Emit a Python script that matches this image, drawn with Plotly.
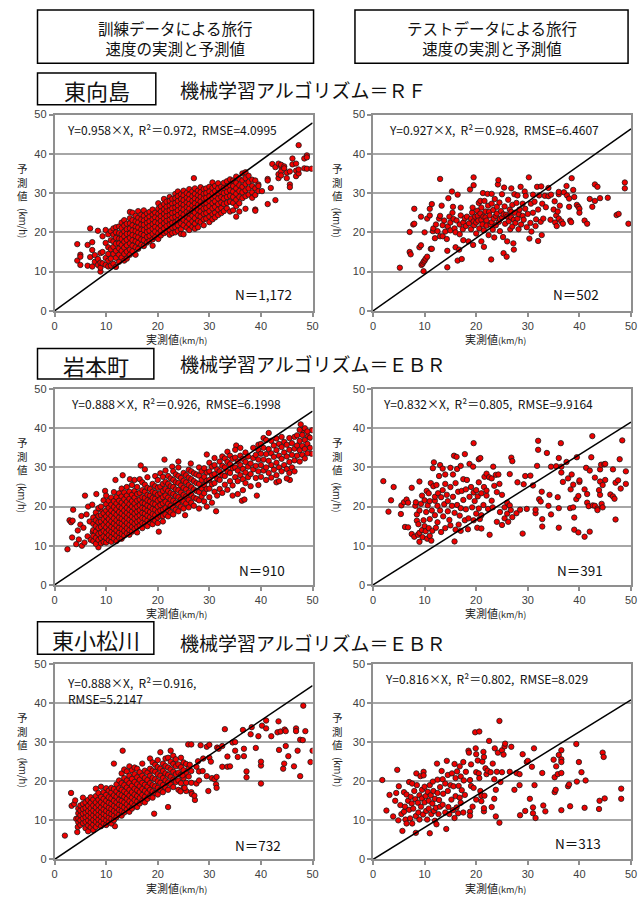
import plotly.graph_objects as go

W, H = 638, 901

# ---------------- text / labels ----------------
HEADERS = [["訓練データによる旅行", "速度の実測と予測値"],
           ["テストデータによる旅行", "速度の実測と予測値"]]
STATIONS = ["東向島", "岩本町", "東小松川"]
ALGOS = ["機械学習アルゴリズム＝ＲＦ", "機械学習アルゴリズム＝ＥＢＲ", "機械学習アルゴリズム＝ＥＢＲ"]
SLOPES = [0.958, 0.927, 0.888, 0.832, 0.888, 0.816]
STATS = ["Y=0.958×X,  R²＝0.972,  RMSE=4.0995",
         "Y=0.927×X,  R²＝0.928,  RMSE=6.4607",
         "Y=0.888×X,  R²＝0.926,  RMSE=6.1998",
         "Y=0.832×X,  R²＝0.805,  RMSE=9.9164",
         "Y=0.888×X,  R²＝0.916,<br>RMSE=5.2147",
         "Y=0.816×X,  R²＝0.802,  RMSE=8.029"]
COUNTS = ["N＝1,172", "N＝502", "N＝910", "N＝391", "N＝732", "N＝313"]
TICKS = [0, 10, 20, 30, 40, 50]
X_TITLE = "実測値<span style='font-size:9px'>(km/h)</span>"
Y_TITLE_CHARS = "予<br>測<br>値"
Y_TITLE_UNIT = "(km/h)"

# ---------------- data: (actual speed x, predicted y1, y2, ...) ----------------
TRAIN_MUKOJIMA = [
    (4.4, 17.0, 12.8), (5.0, 14.3, 11.7, 13.8), (6.4, 16.8, 11.5), (6.9, 21.0, 13.7),
    (7.3, 17.5, 15.5, 11.3), (7.8, 12.5, 14.2), (8.4, 20.4, 13.2, 11.7), (8.9, 10.0, 11.0, 12.3, 14.7),
    (9.3, 19.0, 15.0, 12.1), (9.9, 20.6, 17.3, 13.5, 11.7), (10.4, 19.5, 16.2, 14.5, 12.8, 11.3),
    (10.9, 20.3, 18.0, 15.7, 13.3, 11.5), (11.4, 21.0, 19.4, 17.7, 16.3, 14.5, 12.0),
    (11.9, 21.3, 20.0, 18.6, 17.1, 15.3, 13.5, 11.2), (12.5, 21.5, 19.8, 18.4, 17.2, 15.9, 14.3, 12.5),
    (13.0, 22.5, 21.1, 19.5, 18.3, 16.8, 15.3, 13.6), (13.5, 23.1, 21.7, 20.2, 19.0, 17.6, 16.1, 14.5, 12.8),
    (14.0, 22.2, 20.8, 19.6, 18.1, 16.7, 15.1, 13.3), (14.6, 25.2, 23.6, 22.3, 21.0, 19.7, 18.6, 17.2, 15.6, 14.3),
    (15.1, 25.0, 23.1, 21.8, 20.5, 19.3, 18.0, 16.6, 15.2), (15.7, 24.2, 22.8, 21.4, 20.3, 19.0, 17.7, 16.2, 14.3),
    (16.2, 25.4, 23.7, 22.5, 21.2, 19.9, 18.7, 17.3, 15.8), (16.8, 24.5, 23.3, 22.0, 20.7, 19.6, 18.2, 16.8),
    (17.3, 25.6, 24.2, 23.0, 21.9, 20.6, 19.3, 18.0, 16.5), (17.9, 24.8, 23.5, 22.4, 21.2, 20.1, 18.8, 17.4),
    (18.4, 25.2, 24.0, 22.8, 21.6, 20.4, 19.1, 17.8), (19.0, 25.8, 24.5, 23.3, 22.1, 20.9, 19.6, 18.2, 16.6),
    (19.5, 25.0, 23.8, 22.6, 21.4, 20.2, 18.8), (20.1, 27.4, 26.0, 24.7, 23.5, 22.3, 21.0, 19.7, 18.3),
    (20.6, 26.6, 25.3, 24.1, 22.9, 21.7, 20.4, 19.2), (21.2, 28.5, 27.2, 25.9, 24.7, 23.5, 22.3, 21.0, 19.8),
    (21.7, 27.8, 26.5, 25.3, 24.1, 22.9, 21.6, 20.2), (22.3, 29.0, 28.0, 26.8, 25.6, 24.4, 23.2, 22.0, 20.6, 19.4),
    (22.8, 28.5, 27.3, 26.1, 24.9, 23.7, 22.4, 21.2, 19.8), (23.4, 29.8, 28.7, 27.5, 26.3, 25.1, 23.9, 22.6, 21.3, 20.0),
    (23.9, 30.4, 29.2, 28.0, 26.8, 25.6, 24.4, 23.1, 21.8, 20.4), (24.5, 29.7, 28.5, 27.3, 26.1, 24.9, 23.6, 22.3, 20.8, 19.6),
    (25.0, 30.6, 29.4, 28.2, 27.0, 25.8, 24.5, 23.2, 21.8, 19.5), (25.6, 30.0, 28.8, 27.6, 26.4, 25.2, 24.0, 22.7, 21.2),
    (26.1, 31.0, 29.6, 28.4, 27.2, 26.0, 24.8, 23.5, 22.1, 20.6), (26.7, 30.4, 29.2, 28.0, 26.8, 25.5, 24.2, 22.8, 21.4),
    (27.0, 33.8), (27.2, 31.2, 29.8, 28.6, 27.4, 26.2, 25.0, 23.6, 22.2, 20.9),
    (27.8, 30.6, 29.4, 28.2, 27.0, 25.7, 24.3, 22.9, 21.3), (28.3, 31.5, 30.2, 29.0, 27.8, 26.6, 25.3, 24.0, 22.6),
    (28.9, 31.0, 29.8, 28.6, 27.3, 26.0, 24.7, 23.3, 21.8), (29.4, 31.2, 30.0, 28.8, 27.5, 26.2, 24.9, 23.5),
    (30.0, 31.6, 30.4, 29.2, 28.0, 26.7, 25.4, 24.0, 22.6), (30.6, 32.7, 31.3, 30.0, 28.7, 27.4, 26.1, 24.6, 23.3),
    (31.1, 31.8, 30.5, 29.2, 27.9, 26.5, 25.0, 23.8), (31.7, 32.5, 31.2, 29.9, 28.6, 27.2, 25.8, 24.4),
    (32.3, 31.6, 30.3, 29.0, 27.6, 26.2, 24.9), (32.8, 32.6, 31.3, 30.0, 28.6, 27.2, 25.4),
    (33.4, 33.0, 31.6, 30.3, 29.0, 27.5, 26.1), (34.0, 33.5, 32.0, 30.7, 29.3, 27.8, 25.3),
    (34.6, 33.2, 31.8, 30.4, 29.0, 27.5, 25.6), (35.2, 34.2, 32.6, 31.2, 29.8, 28.3, 26.7, 24.0),
    (35.8, 33.6, 32.0, 30.5, 29.0, 27.4, 25.3), (36.4, 35.0, 33.2, 31.6, 30.2, 28.7),
    (37.0, 35.3, 33.8, 32.3, 30.7, 29.2, 26.0), (37.6, 34.4, 32.8, 31.2, 29.6), (38.3, 33.4, 31.8, 30.2, 28.8),
    (38.9, 33.2, 31.2, 29.5, 25.8, 25.5), (39.5, 32.2, 30.5, 31.8), (40.2, 30.5), (41.3, 27.2, 33.6, 33.2),
    (41.9, 31.3), (42.2, 37.4), (42.8, 28.2, 36.6), (43.4, 33.8, 34.8, 37.5), (43.9, 36.7, 37.2, 35.5, 34.5),
    (44.5, 36.8, 36.3), (45.0, 33.8, 35.2), (45.6, 32.2, 31.5, 35.5), (46.1, 37.3, 38.8),
    (46.8, 34.3, 35.7, 37.5), (47.3, 42.2, 35.0, 36.0), (48.4, 36.3, 38.8), (48.9, 39.6, 36.2, 39.1), (49.8, 36.2),
]

TEST_MUKOJIMA = [
    (5.2, 11.0), (7.1, 20.1, 15.0), (7.3, 14.4), (7.8, 22.0), (8.0, 26.0, 22.2), (9.0, 16.2), (9.3, 24.0, 16.7),
    (9.4, 11.7), (9.6, 12.0), (9.8, 12.5, 10.1), (10.0, 12.8, 20.0), (10.2, 13.3), (10.5, 13.8, 23.5),
    (11.0, 26.0, 24.3), (11.2, 15.8), (11.4, 15.8, 27.2), (11.6, 20.3), (11.7, 21.0), (12.0, 18.5), (12.2, 22.0),
    (12.5, 20.3), (12.8, 23.5), (13.0, 33.6, 24.2, 19.0), (13.3, 26.8), (13.5, 21.8, 19.0), (13.8, 23.0),
    (14.0, 20.2), (14.3, 18.3), (14.4, 15.3, 11.1), (14.5, 21.5), (14.6, 28.7), (14.8, 24.0), (15.0, 20.5, 22.5),
    (15.3, 30.4), (15.4, 25.0), (15.5, 26.5), (15.6, 23.4), (15.8, 21.0), (16.0, 16.2, 20.0), (16.2, 23.0),
    (16.4, 29.6, 12.8), (16.7, 15.6), (16.8, 19.5, 22.0), (17.0, 24.3, 26.3), (17.2, 13.2), (17.4, 20.8),
    (17.5, 22.5, 18.0), (17.8, 23.6), (18.0, 21.6), (18.2, 24.0), (18.5, 17.7), (18.6, 22.3), (18.8, 30.9),
    (19.0, 20.8, 23.5), (19.2, 25.0), (19.3, 26.3), (19.4, 16.8), (19.5, 32.0, 34.0, 22.8), (19.6, 21.8),
    (19.8, 24.0), (20.0, 22.5, 19.7), (20.2, 25.5), (20.3, 24.2), (20.4, 23.0), (20.5, 27.5), (20.6, 21.0),
    (20.8, 24.8, 28.0), (21.0, 17.7, 26.3, 23.2), (21.2, 22.0), (21.3, 30.0), (21.4, 24.0), (21.5, 16.3, 20.5),
    (21.6, 28.0), (21.8, 25.3, 23.8), (22.0, 23.0, 21.7), (22.2, 29.8), (22.3, 26.8), (22.4, 19.3),
    (22.5, 25.2), (22.6, 24.3), (22.8, 22.0), (22.9, 13.1), (23.0, 27.3, 29.8, 22.6), (23.2, 20.7), (23.3, 25.7),
    (23.4, 23.5), (23.5, 18.7), (23.6, 28.5), (23.8, 21.8, 24.2), (24.0, 24.8, 26.5), (24.2, 32.2), (24.3, 33.3),
    (24.4, 22.7), (24.5, 27.6), (24.6, 20.3, 23.4), (24.8, 25.4), (25.0, 23.8, 29.7), (25.2, 18.8),
    (25.3, 14.7, 24.6), (25.4, 31.4), (25.5, 26.6), (25.6, 22.2), (25.8, 24.5), (25.9, 13.8), (26.0, 17.7, 24.0),
    (26.2, 28.3), (26.3, 22.8), (26.5, 25.8), (26.6, 20.8), (26.8, 31.2, 23.8, 25.2), (27.0, 21.5, 27.0),
    (27.2, 17.2), (27.3, 15.6, 23.2), (27.4, 29.7), (27.5, 25.0), (27.6, 22.4), (27.8, 27.5), (28.0, 23.5, 29.4),
    (28.2, 20.8), (28.3, 24.6), (28.4, 25.8), (28.6, 31.6), (28.7, 22.0), (29.0, 27.3, 24.2), (29.2, 23.2),
    (29.4, 30.4), (29.5, 26.0), (29.6, 29.3), (29.8, 21.3), (30.0, 24.7), (30.2, 34.0), (30.3, 18.4),
    (30.5, 22.4), (30.6, 27.3), (30.7, 20.2), (31.0, 25.0, 29.6), (31.3, 27.8), (31.5, 21.6), (31.6, 23.3),
    (31.8, 31.6), (32.0, 17.8, 25.8), (32.2, 29.4), (32.5, 22.7), (32.6, 31.7), (32.7, 19.3), (32.8, 27.3),
    (33.0, 23.5), (33.3, 29.3), (33.5, 26.4), (34.0, 29.2, 31.3), (34.4, 23.2), (34.5, 29.6), (35.0, 25.8),
    (35.2, 27.9), (35.3, 22.5), (35.5, 24.3), (35.6, 21.6), (35.8, 25.3), (36.0, 29.7, 30.3, 23.5),
    (36.2, 26.8), (36.5, 22.8), (36.8, 22.2), (37.0, 30.2), (37.5, 31.8), (37.6, 29.4), (38.0, 28.6, 26.5),
    (38.2, 23.0), (38.4, 22.6), (38.5, 33.8), (38.8, 30.8), (39.0, 29.0), (39.5, 27.0), (39.8, 26.5),
    (40.0, 26.0, 25.0), (41.0, 23.0), (41.5, 22.2), (42.0, 28.5), (42.5, 26.5), (43.0, 32.2, 28.0), (43.5, 31.6),
    (44.0, 28.7), (45.5, 28.8), (47.2, 24.4), (47.6, 24.7), (48.8, 32.7, 31.2), (49.5, 22.2),
]

TRAIN_IWAMOTOCHO = [
    (2.5, 9.1), (2.9, 16.5), (3.2, 16.0), (3.4, 12.1), (3.5, 16.4), (3.6, 19.2), (4.2, 10.4), (4.5, 13.9),
    (4.7, 11.6), (5.0, 15.4), (5.2, 17.6), (5.3, 10.0), (5.6, 14.6), (5.8, 10.8), (5.9, 22.8), (6.2, 18.0),
    (6.4, 12.4), (6.5, 20.0), (6.8, 16.2), (7.0, 11.5), (7.3, 20.5), (7.4, 13.5), (7.8, 17.3), (8.1, 23.2),
    (8.2, 11.0), (8.5, 9.6), (8.6, 14.5), (8.9, 19.3), (9.2, 12.2), (9.5, 21.6), (9.8, 24.0), (10.0, 22.8),
    (11.8, 26.8), (13.2, 28.0), (14.6, 27.0), (16.7, 30.5), (17.5, 29.5), (20.2, 13.6), (21.3, 32.0),
    (22.8, 30.2), (24.0, 31.5), (25.3, 17.8), (26.4, 31.0), (29.5, 33.3), (31.3, 18.8), (33.5, 34.0),
    (35.2, 35.6), (36.3, 21.5), (36.8, 21.8), (39.2, 22.8), (39.5, 35.8), (40.5, 37.5), (41.5, 38.8),
    (43.0, 26.2), (45.6, 26.8), (47.7, 41.0), (48.1, 39.5), (49.1, 38.0), (49.9, 39.5), (49.8, 33.5),
    (7.5, 11.2, 12.5, 14.0, 15.6, 17.2), (8.0, 10.5, 12.0, 13.6, 15.0, 16.5, 18.5),
    (8.5, 11.5, 13.0, 14.5, 16.0, 17.6, 19.6), (9.0, 10.6, 12.0, 13.3, 14.8, 16.2, 17.8, 20.0),
    (9.5, 11.0, 12.4, 13.8, 15.3, 16.8, 18.3), (10.0, 10.8, 12.0, 13.4, 14.7, 16.1, 17.5, 19.0, 20.6),
    (10.5, 11.4, 12.7, 14.0, 15.4, 16.8, 18.2, 19.7, 21.5), (11.0, 11.0, 12.2, 13.5, 14.8, 16.2, 17.6, 19.0, 20.5, 22.3),
    (11.5, 11.8, 13.1, 14.4, 15.7, 17.0, 18.4, 19.9, 21.4, 23.7), (12.0, 11.2, 12.6, 13.9, 15.2, 16.5, 17.9, 19.3, 20.8, 22.4),
    (12.5, 12.0, 13.3, 14.6, 15.9, 17.2, 18.6, 20.0, 21.5, 23.4), (13.0, 11.8, 13.0, 14.3, 15.6, 16.9, 18.2, 19.6, 21.0, 22.6, 24.6),
    (13.5, 12.6, 13.8, 15.1, 16.4, 17.7, 19.0, 20.4, 21.9, 23.6), (14.0, 13.2, 14.5, 15.8, 17.1, 18.4, 19.7, 21.2, 22.8, 25.0),
    (14.5, 12.8, 14.0, 15.3, 16.6, 17.9, 19.2, 20.6, 22.0, 23.8), (15.0, 13.6, 14.8, 16.1, 17.4, 18.7, 20.0, 21.4, 23.0, 25.5),
    (15.5, 14.3, 15.6, 16.9, 18.2, 19.5, 20.8, 22.3, 24.0, 26.8), (16.0, 13.4, 14.8, 16.1, 17.4, 18.7, 20.0, 21.5, 23.2, 25.0),
    (16.5, 15.2, 16.5, 17.8, 19.1, 20.4, 21.8, 23.5, 27.0), (17.0, 14.5, 15.8, 17.1, 18.4, 19.7, 21.0, 22.4, 24.2, 26.2),
    (17.5, 15.6, 16.9, 18.2, 19.5, 20.8, 22.2, 23.8, 25.6), (18.0, 15.0, 16.4, 17.7, 19.0, 20.3, 21.6, 23.0, 24.8, 27.5),
    (18.5, 16.0, 17.3, 18.6, 19.9, 21.3, 22.8, 24.5), (19.0, 15.5, 16.8, 18.1, 19.4, 20.8, 22.2, 23.8, 25.8),
    (19.5, 16.4, 17.8, 19.2, 20.6, 22.0, 23.5, 25.2, 27.8), (20.0, 15.8, 17.2, 18.6, 20.0, 21.5, 23.0, 24.8, 26.8),
    (20.5, 17.6, 19.0, 20.4, 21.9, 23.4, 25.1, 28.5), (21.0, 16.2, 17.6, 19.2, 20.8, 22.4, 24.0, 25.8, 27.6),
    (21.5, 18.0, 19.6, 21.2, 22.8, 24.5, 26.3, 29.2), (22.0, 17.5, 19.1, 20.7, 22.3, 24.0, 25.8, 27.8),
    (22.5, 18.5, 20.2, 21.8, 23.5, 25.2, 27.2), (23.0, 18.0, 19.8, 21.5, 23.2, 25.0, 26.8, 29.0),
    (23.5, 19.2, 21.0, 22.7, 24.4, 26.2, 28.2), (24.0, 18.8, 20.6, 22.4, 24.2, 26.0, 27.8, 30.0),
    (24.5, 20.0, 21.8, 23.6, 25.4, 27.3), (25.0, 19.5, 21.3, 23.0, 24.8, 26.6, 28.6),
    (25.5, 20.8, 22.6, 24.4, 26.2, 28.0), (26.0, 19.8, 21.7, 23.6, 25.5, 27.4, 29.4),
    (26.5, 21.0, 23.0, 25.0, 27.0, 29.0), (27.0, 20.2, 22.3, 24.4, 26.5, 28.5), (27.5, 22.0, 24.0, 26.0, 28.2),
    (28.0, 19.5, 21.6, 23.7, 25.8, 27.9, 30.0), (28.5, 22.6, 24.7, 26.8, 29.0), (29.0, 21.3, 23.4, 25.5, 27.6, 29.8),
    (29.5, 20.0, 24.5, 26.6, 28.7), (30.0, 22.4, 24.6, 26.8, 29.0, 31.2), (30.5, 21.0, 25.7, 28.0, 30.2),
    (31.0, 23.8, 26.0, 28.3, 30.6, 32.4), (31.5, 22.8, 27.2, 29.5), (32.0, 24.5, 26.8, 29.0, 31.5),
    (32.5, 23.5, 28.0, 30.4, 32.8), (33.0, 25.6, 27.8, 30.0, 32.3), (33.5, 24.3, 29.0, 31.4),
    (34.0, 26.5, 28.6, 30.8, 33.0), (34.5, 22.8, 25.4, 29.8, 32.2), (35.0, 27.5, 30.0, 32.5, 34.5),
    (35.5, 23.2, 26.5, 29.2, 31.5), (36.0, 28.0, 30.6, 33.0, 35.0), (36.5, 24.2, 27.0, 29.6, 32.2),
    (37.0, 26.0, 28.7, 31.4, 33.8), (37.5, 27.5, 30.2, 32.8), (38.0, 25.2, 28.3, 31.0), (38.5, 29.5, 32.4, 35.0),
    (39.0, 27.3, 30.4, 33.2), (39.5, 25.5, 29.0, 32.0, 34.5), (40.0, 27.6, 30.6, 33.5, 36.0),
    (40.5, 29.2, 32.0, 35.0), (41.0, 26.8, 30.0, 33.4, 37.0), (41.5, 28.6, 31.7, 34.7),
    (42.0, 27.4, 30.6, 33.6, 36.8), (42.5, 29.4, 32.7, 35.6), (43.0, 28.0, 31.2, 34.4, 37.4),
    (43.5, 26.5, 30.0, 33.0, 36.0), (44.0, 29.0, 32.2, 35.2, 37.8), (44.5, 30.6, 33.8, 36.5),
    (45.0, 27.2, 29.6, 32.8, 35.8), (45.5, 28.6, 31.4, 34.5, 37.5), (46.0, 30.0, 33.2, 36.2),
    (46.5, 29.0, 31.8, 34.8, 37.8), (47.0, 33.0, 35.6, 38.2), (47.5, 31.5, 34.4, 36.8, 39.6),
    (48.0, 33.2, 35.5, 38.3), (48.5, 32.3, 34.7, 37.0, 40.0), (49.0, 33.6, 36.0, 39.2), (49.5, 35.0, 37.6),
]

TEST_IWAMOTOCHO = [
    (2.0, 26.5), (3.0, 18.7), (3.5, 21.6), (4.0, 25.0), (5.4, 18.1), (5.5, 20.3), (6.0, 21.1), (6.2, 14.8),
    (6.5, 21.8), (6.8, 21.0, 14.7), (7.5, 24.8, 13.0), (8.0, 12.3), (8.2, 20.2), (8.3, 21.1), (8.5, 16.4, 18.0),
    (8.7, 12.8), (8.8, 15.5), (9.0, 11.0, 13.3, 19.0, 26.4), (9.3, 20.7), (9.5, 14.0, 22.8), (9.6, 12.2),
    (9.8, 16.5), (10.0, 15.0, 21.6), (10.2, 13.7), (10.3, 18.6), (10.4, 24.0), (10.5, 11.8), (10.6, 20.3),
    (10.8, 14.5, 23.4), (11.0, 12.5, 16.8, 21.4), (11.2, 26.0), (11.3, 11.3), (11.4, 19.0), (11.5, 13.8),
    (11.6, 29.8), (11.7, 25.2), (11.8, 31.3), (12.0, 17.8, 21.5, 22.5), (12.2, 14.6), (12.3, 25.5),
    (12.5, 20.2, 16.0), (12.6, 23.4), (12.8, 27.8), (13.0, 19.0, 30.6), (13.2, 13.5, 22.4), (13.5, 29.7, 24.2),
    (13.6, 17.5), (13.8, 20.6), (14.0, 25.8, 14.5, 28.2), (14.3, 23.0), (14.5, 21.4, 18.8), (14.8, 16.6),
    (15.0, 29.9, 25.0, 15.2), (15.3, 20.2), (15.5, 28.2, 22.5), (15.7, 33.0), (15.8, 11.1, 18.4), (16.0, 26.0, 14.1),
    (16.2, 32.7), (16.3, 20.4, 29.6), (16.5, 23.8), (16.6, 15.4), (16.8, 17.7), (17.0, 30.4, 19.6, 13.8),
    (17.2, 24.0), (17.5, 21.7, 27.0), (17.8, 33.4, 16.5), (18.0, 19.3, 24.4), (18.2, 26.8), (18.4, 14.2),
    (18.5, 17.0), (18.7, 22.5, 30.9), (19.0, 25.0), (19.2, 19.8), (19.4, 30.2), (19.5, 36.2, 23.6, 16.5),
    (19.7, 21.4), (20.0, 24.2, 18.2), (20.2, 14.6), (20.3, 22.6), (20.5, 32.1, 26.2, 19.5), (20.7, 16.8),
    (20.8, 32.4), (21.0, 14.4, 23.4, 17.8), (21.4, 20.4), (21.5, 25.0), (21.6, 27.6), (22.0, 28.4, 22.8, 24.1),
    (22.3, 19.4), (22.5, 27.5), (22.6, 12.8), (23.0, 21.5, 27.2), (23.2, 19.8), (23.3, 30.2), (23.5, 25.3),
    (23.8, 28.1), (24.0, 23.7, 16.1), (24.3, 28.2), (24.5, 25.8), (24.6, 18.6), (25.0, 23.0, 15.3),
    (25.5, 17.0, 19.8), (26.0, 21.0, 18.2), (26.2, 16.1), (26.5, 20.3, 28.3), (26.7, 19.1), (26.8, 32.5),
    (27.0, 31.6, 17.3), (27.8, 18.3), (28.0, 26.2), (28.5, 19.2), (29.0, 13.1), (29.2, 25.7), (29.5, 27.8),
    (29.8, 19.4), (30.5, 27.9), (31.0, 25.4), (31.5, 18.3, 19.2), (31.8, 30.4), (32.0, 36.8, 34.5), (32.2, 21.9),
    (32.5, 21.3), (32.7, 23.8), (32.8, 14.9, 16.8), (33.7, 33.7), (34.0, 20.2), (34.2, 23.0), (34.5, 18.0, 30.2),
    (35.5, 30.3), (35.8, 22.4), (36.0, 32.4, 14.6, 19.6), (36.4, 36.2), (36.5, 30.2, 28.7), (36.8, 26.3),
    (37.5, 31.4), (37.8, 27.2), (38.2, 19.6), (38.3, 24.4), (38.5, 28.2), (38.8, 25.6, 19.8), (39.0, 14.1, 17.2),
    (39.4, 21.9), (39.5, 32.6), (39.8, 13.4, 22.7), (40.0, 26.3, 26.7), (41.0, 12.3, 24.4), (41.3, 29.9),
    (41.5, 23.2, 21.0), (41.8, 20.1), (42.0, 13.6, 29.2), (42.3, 32.6), (42.5, 38.0), (42.6, 20.3),
    (43.0, 27.4, 20.2), (43.5, 19.5, 19.1), (43.8, 24.2), (44.0, 26.4, 23.0, 29.5), (44.2, 30.7), (44.3, 20.7),
    (44.5, 25.5, 19.8), (44.8, 30.8), (45.0, 26.8, 30.9), (46.0, 23.1), (46.5, 29.5, 22.6), (46.8, 22.0),
    (47.0, 16.7, 26.1), (47.5, 26.7), (47.8, 32.1), (48.0, 24.6), (48.3, 36.9), (49.0, 25.8, 29.0),
]

TRAIN_HIGASHIKOMATSUGAWA = [
    (2.0, 6.1), (3.2, 17.0), (3.3, 13.7), (3.8, 14.2), (4.0, 15.1), (4.2, 10.4), (4.4, 7.0), (4.5, 8.3),
    (11.5, 24.5), (13.2, 27.8), (11.7, 8.5), (19.3, 11.7), (22.0, 13.4), (27.2, 15.2),
    (4.6, 9.5, 10.5, 11.8, 13.0), (5.0, 8.8, 10.0, 11.3, 12.5, 13.8), (5.5, 9.3, 10.5, 11.7, 12.9, 14.2, 15.8),
    (6.0, 8.0, 9.6, 10.8, 12.0, 13.2, 14.6), (6.5, 7.2, 8.7, 10.0, 11.2, 12.4, 13.7, 15.2),
    (7.0, 8.2, 9.5, 10.7, 11.9, 13.1, 14.5, 15.9), (7.5, 7.5, 8.9, 10.1, 11.3, 12.5, 13.8, 15.3),
    (8.0, 8.3, 9.6, 10.8, 12.0, 13.3, 14.6, 16.2, 18.1), (8.5, 9.0, 10.2, 11.4, 12.6, 13.9, 15.3, 17.0),
    (9.0, 8.5, 9.7, 10.9, 12.1, 13.3, 14.6, 16.0, 18.6), (9.5, 9.2, 10.4, 11.6, 12.8, 14.1, 15.5, 17.2),
    (10.0, 8.8, 10.0, 11.2, 12.4, 13.7, 15.0, 16.5, 18.2), (10.5, 9.5, 10.7, 11.9, 13.2, 14.5, 15.9, 17.6),
    (11.0, 9.2, 10.4, 11.6, 12.9, 14.2, 15.6, 17.1, 18.3), (11.5, 10.0, 11.2, 12.4, 13.7, 15.0, 16.4, 18.0),
    (12.0, 10.8, 12.0, 13.3, 14.6, 16.0, 17.4, 19.2), (12.5, 11.5, 12.7, 14.0, 15.3, 16.7, 18.2, 20.2),
    (13.0, 11.2, 12.4, 13.7, 15.0, 16.4, 17.8, 19.5, 22.0), (13.5, 12.0, 13.3, 14.6, 16.0, 17.4, 19.0, 20.8, 23.0),
    (14.0, 12.8, 14.1, 15.5, 16.9, 18.4, 20.2, 22.5), (14.5, 12.2, 13.5, 14.9, 16.3, 17.8, 19.5, 21.4, 23.8),
    (15.0, 13.0, 14.4, 15.8, 17.2, 18.8, 20.6, 22.8), (15.5, 13.8, 15.2, 16.6, 18.1, 19.8, 21.8, 23.5),
    (16.0, 13.4, 14.8, 16.2, 17.7, 19.2, 21.0, 23.2), (16.5, 14.3, 15.7, 17.2, 18.7, 20.4, 22.3),
    (17.0, 15.0, 16.5, 18.0, 19.6, 21.4, 24.5), (17.5, 14.6, 16.0, 17.5, 19.1, 20.8, 22.7),
    (18.0, 15.5, 17.0, 18.6, 20.3, 22.2), (18.5, 16.2, 17.8, 19.5, 21.4, 23.2, 25.8),
    (19.0, 15.8, 17.4, 19.0, 20.8, 22.7, 24.8), (19.5, 17.0, 18.7, 20.5, 22.4, 24.2),
    (20.0, 16.6, 18.3, 20.0, 21.8, 23.6, 25.4), (20.5, 17.8, 19.6, 21.4, 23.2, 27.4),
    (21.0, 17.2, 19.0, 20.8, 22.6, 24.5), (21.5, 18.4, 20.2, 22.0, 23.9, 25.8), (22.0, 17.8, 19.7, 21.6, 23.5, 26.0),
    (22.5, 19.2, 21.1, 23.0, 25.0, 27.8), (23.0, 18.5, 20.4, 22.4, 24.4, 26.5), (23.5, 19.8, 21.8, 23.8, 25.6),
    (24.0, 17.8, 20.2, 22.2, 24.3), (24.5, 19.5, 21.6, 23.6, 26.0), (25.0, 18.2, 20.8, 22.8, 24.8),
    (25.5, 17.5, 19.6, 22.0, 24.4), (26.0, 21.2, 23.4), (26.5, 17.2, 19.6, 22.6),
    (24.4, 17.4), (24.8, 21.5), (25.2, 18.3), (25.9, 29.4), (26.2, 24.2), (26.5, 29.4), (26.6, 16.7),
    (27.1, 16.3), (27.5, 23.7, 19.4), (27.8, 25.1), (28.0, 22.5, 20.2), (28.3, 29.2), (28.7, 22.6),
    (28.8, 25.8), (29.5, 28.8, 21.3), (29.8, 17.5), (30.0, 29.3, 26.0), (30.3, 25.0), (30.5, 20.8), (31.0, 20.5),
    (31.3, 19.2), (31.4, 21.1, 18.3), (31.5, 28.6), (31.8, 28.3), (32.5, 29.0, 23.7), (33.0, 33.3),
    (33.5, 26.3, 23.7), (34.0, 23.8), (34.5, 29.9), (35.0, 27.8, 30.0), (35.5, 26.2), (36.5, 33.1),
    (36.7, 26.4, 28.3), (37.2, 22.5, 21.0), (38.0, 32.0), (38.2, 33.8), (39.0, 28.5), (39.5, 31.5),
    (40.0, 19.4, 24.0, 25.0), (40.2, 34.2), (41.0, 33.5, 35.5), (42.0, 31.5), (43.2, 32.5), (43.4, 35.3),
    (43.5, 28.0), (43.8, 32.7), (44.3, 23.2), (44.5, 24.5), (44.6, 33.2), (44.8, 32.8, 29.0), (45.3, 26.4),
    (46.4, 23.8), (46.8, 33.5, 32.8), (47.1, 27.8), (47.6, 21.3, 30.6), (48.1, 30.5), (48.2, 39.3),
    (48.6, 32.8), (49.6, 24.9), (50.0, 27.8),
]

TEST_HIGASHIKOMATSUGAWA = [
    (1.8, 20.3), (2.6, 12.5), (3.2, 16.5), (3.9, 11.0), (4.3, 15.0), (4.5, 17.0), (4.7, 22.9), (4.9, 10.0),
    (5.0, 18.7), (5.3, 13.9), (5.5, 11.6), (5.7, 7.3), (6.0, 17.2, 12.2), (6.2, 13.5), (6.3, 10.2),
    (6.5, 16.6, 9.2), (6.8, 15.0), (7.0, 19.8, 12.7), (7.2, 10.5), (7.3, 16.0), (7.5, 14.3), (7.6, 19.4, 9.2),
    (7.8, 13.0), (8.0, 17.5), (8.2, 15.4), (8.3, 11.1, 6.8), (8.4, 22.0), (8.5, 19.0), (8.7, 14.5), (8.8, 12.0),
    (9.0, 16.4, 10.2), (9.2, 21.3), (9.3, 13.5), (9.5, 17.8, 15.6), (9.7, 11.5), (9.8, 22.4, 21.5),
    (10.0, 14.6, 18.6), (10.2, 16.2), (10.3, 12.4), (10.5, 10.2), (10.6, 17.3), (10.8, 15.0, 13.0),
    (11.0, 19.0, 6.7), (11.2, 16.4), (11.3, 11.6), (11.5, 14.3), (11.6, 19.9), (11.7, 17.5), (11.8, 12.4),
    (12.0, 15.5, 9.9), (12.2, 13.2), (12.3, 9.0), (12.4, 24.5), (12.5, 17.0, 20.4), (12.7, 11.6), (12.8, 15.2),
    (13.0, 18.5, 13.5), (13.3, 22.6), (13.5, 20.5, 14.0), (13.6, 16.8), (14.0, 12.0, 19.4), (14.2, 7.8),
    (14.3, 25.2), (14.5, 17.5, 21.6), (14.6, 13.4), (14.8, 11.6), (15.0, 19.0), (15.2, 15.3), (15.3, 22.0),
    (15.5, 12.6), (15.6, 18.7), (15.8, 24.4, 10.6), (16.0, 16.2, 20.8), (16.2, 13.3), (16.3, 22.5), (16.5, 11.8),
    (16.6, 18.8), (16.8, 23.8, 15.8), (17.0, 21.2, 14.5), (17.2, 17.7), (17.5, 24.9, 12.0), (17.6, 20.2),
    (17.8, 16.5), (18.0, 22.4), (18.5, 27.8), (18.6, 27.3), (18.8, 20.3, 12.2, 11.2), (19.0, 18.8, 24.3),
    (19.3, 13.5), (19.5, 18.3), (19.8, 32.5), (19.9, 28.4), (20.0, 26.9, 22.3, 15.3), (20.3, 25.3), (20.5, 22.0),
    (20.6, 32.7, 20.8), (20.8, 17.5), (21.0, 16.3, 14.9), (21.2, 25.0), (21.4, 27.5), (21.5, 26.2, 12.3, 13.1),
    (21.6, 16.3), (21.8, 23.3), (22.0, 21.8), (22.2, 22.7), (22.5, 30.3), (22.8, 22.3), (23.0, 13.4),
    (23.2, 24.5), (23.5, 15.5, 20.5), (23.6, 28.4), (23.8, 11.0, 17.8), (24.0, 22.4), (24.2, 27.3),
    (24.5, 9.4, 35.4), (24.7, 19.8), (25.0, 22.3, 27.9), (25.3, 26.8), (25.5, 28.9), (25.6, 29.6), (26.5, 22.4),
    (26.8, 28.8), (27.4, 17.8), (27.8, 22.1), (28.4, 21.8, 19.0), (28.5, 11.3), (29.0, 26.9), (29.5, 12.4),
    (29.8, 24.9), (30.0, 25.2), (30.4, 15.5), (30.8, 23.7), (31.0, 13.3, 11.8), (31.2, 28.4), (31.3, 19.0),
    (31.5, 10.6), (32.8, 22.1), (33.0, 13.8), (33.4, 12.3), (35.0, 25.5), (35.2, 21.0, 17.2), (35.4, 17.8),
    (35.5, 23.8), (35.8, 21.8), (36.0, 26.7), (36.5, 27.9, 25.6, 24.9, 22.1, 12.6), (37.8, 18.7), (38.0, 19.2),
    (38.2, 13.6), (39.4, 29.5), (39.5, 19.9), (39.9, 24.9), (40.4, 22.3), (41.0, 13.2), (41.2, 20.2),
    (43.8, 12.9), (43.9, 15.0), (44.5, 27.3), (44.7, 26.2), (44.9, 15.6), (48.1, 18.1, 15.5),
]

PANELS = [TRAIN_MUKOJIMA, TEST_MUKOJIMA, TRAIN_IWAMOTOCHO, TEST_IWAMOTOCHO,
          TRAIN_HIGASHIKOMATSUGAWA, TEST_HIGASHIKOMATSUGAWA]

# ---------------- geometry (pixels) ----------------
COLS_X = [(52.3, 314.0), (375.3, 637.0)]
ROWS_Y = [(110.0, 309.0), (388.3, 586.7), (666.7, 865.0)]
STAT_POS = [(63, 125), (390, 125), (67, 403), (383, 403), (63, 689), (385, 682)]
N_POS = [(233, 292), (556, 292), (237, 572), (560, 572), (233, 850), (558, 848)]

JP = "Noto Sans CJK JP"


def fx(x):
    return x / W


def fy(y):
    return 1 - y / H


fig = go.Figure()
layout = {}
annotations = []
shapes = []

axis_common = dict(range=[0, 50], tickvals=TICKS, showline=True, linecolor="#8f8f8f", linewidth=1.5,
                   mirror=True, ticks="outside", ticklen=4, tickcolor="#8f8f8f", tickwidth=1.5,
                   zeroline=False, fixedrange=True,
                   tickfont=dict(family="Liberation Sans", size=11, color="#404040"))

for i, cols in enumerate(PANELS):
    r, c = divmod(i, 2)
    sfx = "" if i == 0 else str(i + 1)
    xs = [t[0] for t in cols for _ in t[1:]]
    ys = [y for t in cols for y in t[1:]]
    fig.add_trace(go.Scatter(x=xs, y=ys, mode="markers", xaxis="x" + sfx, yaxis="y" + sfx,
                             marker=dict(size=5.4, color="#f00000", line=dict(color="#1a1a1a", width=0.8)),
                             showlegend=False, hoverinfo="skip"))
    fig.add_trace(go.Scatter(x=[TICKS[0], TICKS[-1]], y=[SLOPES[i] * TICKS[0], SLOPES[i] * TICKS[-1]],
                             mode="lines", xaxis="x" + sfx, yaxis="y" + sfx,
                             line=dict(color="black", width=1.5), showlegend=False, hoverinfo="skip"))
    x0, x1 = COLS_X[c]
    y0, y1 = ROWS_Y[r]
    layout["xaxis" + sfx] = dict(domain=[fx(x0), fx(x1)], anchor="y" + sfx, showgrid=False, **axis_common)
    layout["yaxis" + sfx] = dict(domain=[fy(y1), fy(y0)], anchor="x" + sfx, showgrid=True,
                                 gridcolor="#a6a6a6", gridwidth=1.5, **axis_common)

    sx, sy = STAT_POS[i]
    two_lines = "<br>" in STATS[i]
    annotations.append(dict(x=fx(sx), y=fy(sy - 14 if two_lines else sy), xref="paper", yref="paper",
                            text=STATS[i], showarrow=False, xanchor="left",
                            yanchor="top" if two_lines else "middle", align="left",
                            font=dict(family=JP, size=12, color="#111")))
    nx, ny = N_POS[i]
    annotations.append(dict(x=fx(nx), y=fy(ny), xref="paper", yref="paper", text=COUNTS[i], showarrow=False,
                            xanchor="left", yanchor="middle", font=dict(family=JP, size=13.5, color="#111")))
    # axis titles
    cx = (x0 + x1) / 2 - 7
    annotations.append(dict(x=fx(cx), y=fy(y1 + 29), xref="paper", yref="paper", text=X_TITLE,
                            showarrow=False, xanchor="center", yanchor="middle",
                            font=dict(family=JP, size=11, color="#222")))
    tx = 20 if c == 0 else 339
    annotations.append(dict(x=fx(tx), y=fy(y0 + 68), xref="paper", yref="paper", text=Y_TITLE_CHARS,
                            showarrow=False, xanchor="center", yanchor="middle",
                            font=dict(family=JP, size=10.5, color="#222")))
    annotations.append(dict(x=fx(tx), y=fy(y0 + 110), xref="paper", yref="paper", text=Y_TITLE_UNIT,
                            showarrow=False, xanchor="center", yanchor="middle", textangle=90,
                            font=dict(family=JP, size=9.5, color="#222")))

# header boxes
HEADER_BOXES = [(35, 4, 315, 58), (357, 4, 634, 58)]
for (bx0, by0, bx1, by1), lines in zip(HEADER_BOXES, HEADERS):
    shapes.append(dict(type="rect", xref="paper", yref="paper", x0=fx(bx0), x1=fx(bx1), y0=fy(by1), y1=fy(by0),
                       line=dict(color="black", width=1.5)))
    annotations.append(dict(x=fx((bx0 + bx1) / 2), y=fy(32), xref="paper", yref="paper",
                            text="<br>".join(lines), showarrow=False, xanchor="center", yanchor="middle",
                            align="center", font=dict(family=JP, size=15.5, color="#111")))

# station label boxes + algorithm titles
STATION_BOXES = [(35, 68, 155, 100), (35, 347, 153, 378), (35, 624, 153, 657)]
ALGO_Y = [85, 362, 645]
for (bx0, by0, bx1, by1), name, algo, ay in zip(STATION_BOXES, STATIONS, ALGOS, ALGO_Y):
    shapes.append(dict(type="rect", xref="paper", yref="paper", x0=fx(bx0), x1=fx(bx1), y0=fy(by1), y1=fy(by0),
                       line=dict(color="black", width=1.5)))
    annotations.append(dict(x=fx((bx0 + bx1) / 2), y=fy((by0 + by1) / 2 + 1), xref="paper", yref="paper",
                            text=name, showarrow=False, xanchor="center", yanchor="middle",
                            font=dict(family=JP, size=22, color="#111")))
    annotations.append(dict(x=fx(177), y=fy(ay), xref="paper", yref="paper", text=algo, showarrow=False,
                            xanchor="left", yanchor="middle", font=dict(family=JP, size=19, color="#111")))

fig.update_layout(width=W, height=H, margin=dict(l=0, r=0, t=0, b=0), paper_bgcolor="white",
                  plot_bgcolor="white", showlegend=False, annotations=annotations, shapes=shapes, **layout)

fig.write_html("out.html", config={"displayModeBar": False},
               post_script="document.body.style.margin='0px';document.body.style.overflow='hidden';")
